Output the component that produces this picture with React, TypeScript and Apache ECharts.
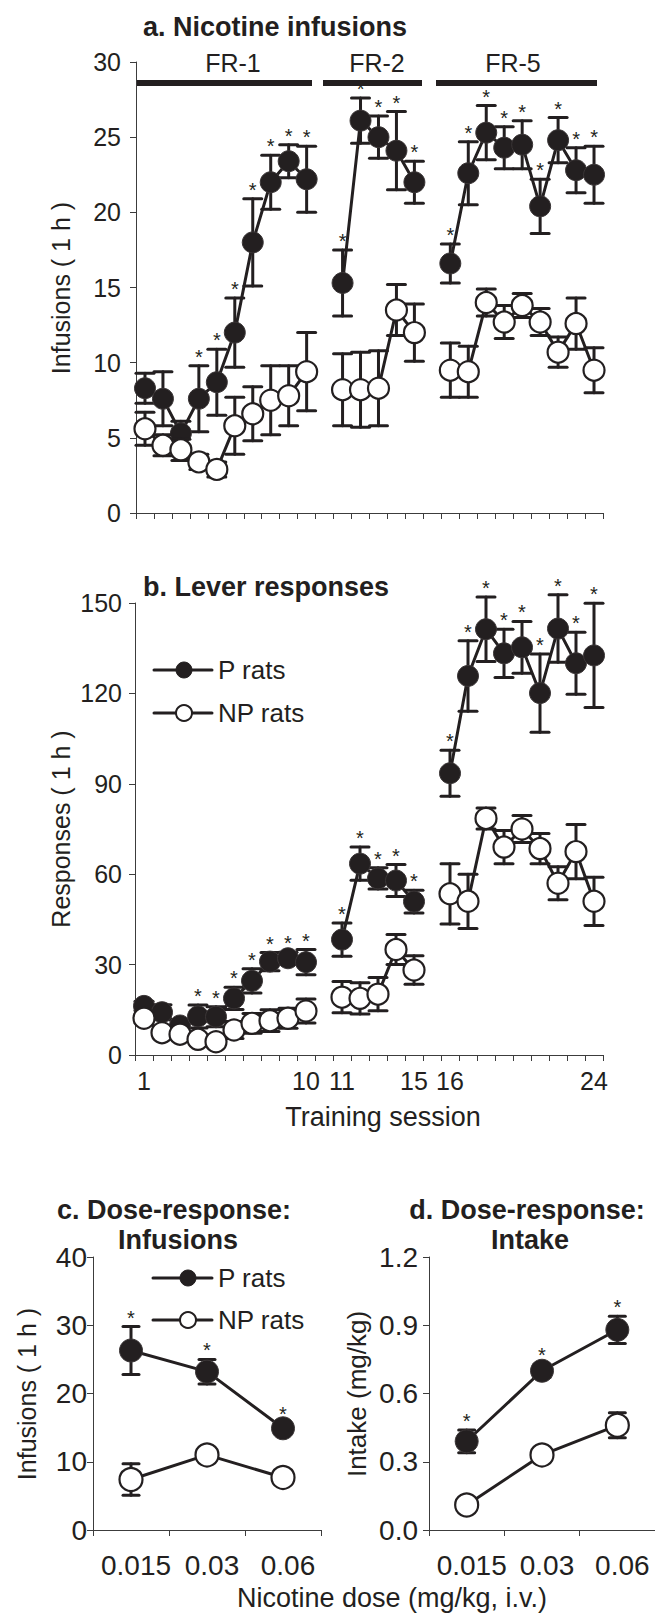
import React, { useEffect, useRef } from "react";
import * as echarts from "echarts";

const FONT = '"Liberation Sans", Arial, Helvetica, sans-serif';
const INK = "#231f20";
const AXIS = "#3c3c3c";

// ---------- Training sessions (panels a, b) ----------
const sessionCats = [
  "1", "2", "3", "4", "5", "6", "7", "8", "9", "10", "gapA",
  "11", "12", "13", "14", "15", "gapB",
  "16", "17", "18", "19", "20", "21", "22", "23", "24",
];
const sessionTickLabels = ["1", "10", "11", "15", "16", "24"];

// a. Nicotine infusions
const infP = [8.3, 7.6, 5.3, 7.6, 8.7, 12.0, 18.0, 22.0, 23.4, 22.2, null, 15.3, 26.1, 25.0, 24.1, 22.0, null, 16.6, 22.6, 25.3, 24.3, 24.5, 20.4, 24.8, 22.8, 22.5];
const infPErr = [1.0, 1.8, 0.8, 2.2, 2.2, 2.3, 2.9, 1.8, 1.1, 2.2, null, 2.2, 1.5, 1.4, 2.6, 1.4, null, 1.3, 2.1, 1.8, 1.4, 1.6, 1.8, 1.5, 1.5, 1.9];
const infNP = [5.6, 4.5, 4.2, 3.4, 2.9, 5.8, 6.6, 7.5, 7.8, 9.4, null, 8.2, 8.2, 8.3, 13.5, 12.0, null, 9.5, 9.4, 14.0, 12.7, 13.8, 12.7, 10.7, 12.6, 9.5];
const infNPErr = [1.1, 0.7, 0.7, 0.5, 0.5, 1.9, 1.8, 2.3, 2.0, 2.6, null, 2.4, 2.5, 2.5, 1.7, 1.9, null, 1.8, 1.7, 0.9, 1.1, 0.8, 0.9, 1.0, 1.7, 1.5];
const infSig = [0, 0, 0, 1, 1, 1, 1, 1, 1, 1, 0, 1, 1, 1, 1, 1, 0, 1, 1, 1, 1, 1, 1, 1, 1, 1];

// b. Lever responses
const resP = [16.3, 14.2, 9.8, 12.8, 12.7, 18.8, 24.6, 31.0, 32.1, 30.8, null, 38.3, 63.5, 58.6, 57.9, 50.9, null, 93.5, 125.8, 141.3, 133.3, 135.3, 120.1, 141.5, 130.0, 132.6];
const resPErr = [1.5, 2.5, 1.5, 3.8, 3.3, 3.7, 4.0, 3.0, 2.0, 4.2, null, 5.5, 5.5, 3.5, 5.3, 3.8, null, 7.6, 11.7, 10.7, 8.0, 8.6, 13.0, 11.2, 10.3, 17.3];
const resNP = [12.2, 7.4, 6.9, 5.2, 4.4, 8.3, 10.5, 11.4, 12.2, 14.6, null, 19.2, 18.8, 20.2, 35.0, 28.2, null, 53.5, 51.0, 78.5, 69.0, 75.0, 68.5, 57.0, 67.5, 51.0];
const resNPErr = [1.5, 1.0, 1.0, 1.0, 1.0, 2.8, 3.3, 3.6, 3.3, 4.0, null, 5.2, 5.2, 5.5, 5.0, 4.7, null, 10.0, 9.0, 3.5, 5.5, 4.5, 5.0, 5.5, 9.0, 8.0];
const resSig = [0, 0, 0, 1, 1, 1, 1, 1, 1, 1, 0, 1, 1, 1, 1, 1, 0, 1, 1, 1, 1, 1, 1, 1, 1, 1];

// ---------- Dose-response (panels c, d) ----------
const doseCats = ["0.015", "0.03", "0.06"];
const doseInfP = [26.3, 23.2, 14.9];
const doseInfPErr = [3.5, 1.8, 0.8];
const doseInfNP = [7.4, 11.0, 7.7];
const doseInfNPErr = [2.3, 0.6, 0.5];
const doseInfSig = [1, 1, 1];

const intakeP = [0.39, 0.70, 0.88];
const intakePErr = [0.05, 0.03, 0.06];
const intakeNP = [0.11, 0.33, 0.46];
const intakeNPErr = [0.02, 0.03, 0.055];
const intakeSig = [1, 1, 1];

function errSeries(ax: number, means: (number | null)[], errs: (number | null)[], z: number, capHalf: number) {
  const data: number[][] = [];
  means.forEach((m, i) => {
    if (m != null && errs[i] != null) data.push([i, m - (errs[i] as number), m + (errs[i] as number)]);
  });
  return {
    type: "custom",
    xAxisIndex: ax,
    yAxisIndex: ax,
    z,
    silent: true,
    data,
    encode: { x: 0, y: [1, 2] },
    renderItem: (params: any, api: any) => {
      const x = api.value(0);
      const top = api.coord([x, api.value(2)]);
      const bot = api.coord([x, api.value(1)]);
      const style = { stroke: INK, lineWidth: 3, lineCap: "round" };
      return {
        type: "group",
        children: [
          { type: "line", shape: { x1: top[0], y1: top[1], x2: bot[0], y2: bot[1] }, style },
          { type: "line", shape: { x1: top[0] - capHalf, y1: top[1], x2: top[0] + capHalf, y2: top[1] }, style },
          { type: "line", shape: { x1: bot[0] - capHalf, y1: bot[1], x2: bot[0] + capHalf, y2: bot[1] }, style },
        ],
      };
    },
  };
}

function starSeries(ax: number, means: (number | null)[], errs: (number | null)[], sig: number[]) {
  const data: number[][] = [];
  means.forEach((m, i) => {
    if (m != null && sig[i]) data.push([i, m + (errs[i] as number)]);
  });
  return {
    type: "custom",
    xAxisIndex: ax,
    yAxisIndex: ax,
    z: 8,
    silent: true,
    data,
    encode: { x: 0, y: 1 },
    renderItem: (params: any, api: any) => {
      const p = api.coord([api.value(0), api.value(1)]);
      return {
        type: "text",
        x: p[0],
        y: p[1] - 9,
        style: { text: "*", font: `20px ${FONT}`, fill: INK, textAlign: "center", textVerticalAlign: "middle" },
      };
    },
  };
}

function lineSeries(name: string, ax: number, data: (number | null)[], filled: boolean, z: number, size: number) {
  return {
    name,
    type: "line",
    xAxisIndex: ax,
    yAxisIndex: ax,
    z,
    data,
    connectNulls: false,
    showSymbol: true,
    showAllSymbol: true,
    symbol: "circle",
    symbolSize: size,
    lineStyle: { color: INK, width: 3 },
    itemStyle: filled
      ? { color: INK, borderColor: "#3a3536", borderWidth: 1 }
      : { color: "#ffffff", borderColor: INK, borderWidth: 2.2 },
    emphasis: { disabled: true },
  };
}

const sessionXAxis = (gridIndex: number, showLabels: boolean) => ({
  type: "category",
  gridIndex,
  data: sessionCats,
  boundaryGap: true,
  axisLine: { show: true, lineStyle: { color: AXIS, width: 1 } },
  axisTick: { show: true, interval: 0, length: 6, lineStyle: { color: AXIS, width: 1 } },
  axisLabel: {
    show: showLabels,
    interval: 0,
    fontSize: 25,
    color: INK,
    margin: 13,
    fontFamily: FONT,
    formatter: (v: string) => (sessionTickLabels.includes(v) ? v : ""),
  },
  splitLine: { show: false },
});

const doseXAxis = (gridIndex: number) => ({
  type: "category",
  gridIndex,
  data: doseCats,
  boundaryGap: true,
  axisLine: { show: true, lineStyle: { color: AXIS, width: 1 } },
  axisTick: { show: true, interval: 0, length: 6, lineStyle: { color: AXIS, width: 1 } },
  axisLabel: { show: true, interval: 0, fontSize: 28, color: INK, margin: 21, fontFamily: FONT, padding: [0, 0, 0, 10] },
  splitLine: { show: false },
});

const valueYAxis = (gridIndex: number, max: number, interval: number, margin: number, fontSize: number, fmt?: (v: number) => string) => ({
  type: "value",
  gridIndex,
  min: 0,
  max,
  interval,
  axisLine: { show: true, lineStyle: { color: AXIS, width: 1 } },
  axisTick: { show: true, length: 6, lineStyle: { color: AXIS, width: 1 } },
  axisLabel: { fontSize, color: INK, margin, fontFamily: FONT, formatter: fmt },
  splitLine: { show: false },
});

function text(x: number, y: number, s: string, font: string, align = "left", rotation = 0) {
  return {
    type: "text",
    x,
    y,
    rotation,
    silent: true,
    style: { text: s, font, fill: INK, textAlign: align, textVerticalAlign: "middle" },
  };
}

function legendItem(x1: number, x2: number, cx: number, y: number, filled: boolean, label: string) {
  return [
    { type: "line", silent: true, shape: { x1, y1: y, x2, y2: y }, style: { stroke: INK, lineWidth: 3, lineCap: "round" } },
    {
      type: "circle",
      silent: true,
      shape: { cx, cy: y, r: 8 },
      style: filled ? { fill: INK, stroke: INK, lineWidth: 1 } : { fill: "#fff", stroke: INK, lineWidth: 2 },
    },
    text(x2 + 6, y, label, `26px ${FONT}`),
  ];
}

export default function App() {
  const ref = useRef<HTMLDivElement>(null);
  useEffect(() => {
    if (!ref.current) return;
    const chart = echarts.init(ref.current, undefined, { renderer: "svg" });
    const bold = `bold 27px ${FONT}`;
    const option: any = {
      animation: false,
      textStyle: { fontFamily: FONT },
      grid: [
        { left: 136, top: 62, width: 467, height: 451 },
        { left: 135, top: 603, width: 468, height: 452 },
        { left: 93, top: 1257, width: 228, height: 273 },
        { left: 429, top: 1257, width: 228, height: 273 },
      ],
      xAxis: [sessionXAxis(0, false), sessionXAxis(1, true), doseXAxis(2), doseXAxis(3)],
      yAxis: [
        valueYAxis(0, 30, 5, 15, 25),
        valueYAxis(1, 150, 30, 13, 25),
        valueYAxis(2, 40, 10, 6, 28),
        valueYAxis(3, 1.2, 0.3, 11, 28, (v: number) => v.toFixed(1)),
      ],
      series: [
        errSeries(0, infP, infPErr, 2, 9),
        lineSeries("P rats", 0, infP, true, 3, 21),
        errSeries(0, infNP, infNPErr, 4, 9),
        lineSeries("NP rats", 0, infNP, false, 5, 21),
        starSeries(0, infP, infPErr, infSig),

        errSeries(1, resP, resPErr, 2, 9),
        lineSeries("P rats", 1, resP, true, 3, 21),
        errSeries(1, resNP, resNPErr, 4, 9),
        lineSeries("NP rats", 1, resNP, false, 5, 21),
        starSeries(1, resP, resPErr, resSig),

        errSeries(2, doseInfP, doseInfPErr, 2, 8),
        lineSeries("P rats", 2, doseInfP, true, 3, 23),
        errSeries(2, doseInfNP, doseInfNPErr, 4, 8),
        lineSeries("NP rats", 2, doseInfNP, false, 5, 23),
        starSeries(2, doseInfP, doseInfPErr, doseInfSig),

        errSeries(3, intakeP, intakePErr, 2, 8),
        lineSeries("P rats", 3, intakeP, true, 3, 23),
        errSeries(3, intakeNP, intakeNPErr, 4, 8),
        lineSeries("NP rats", 3, intakeNP, false, 5, 23),
        starSeries(3, intakeP, intakePErr, intakeSig),
      ],
      graphic: [
        // titles
        text(143, 27, "a. Nicotine infusions", bold),
        text(143, 587, "b. Lever responses", bold),
        text(174, 1210, "c. Dose-response:", bold, "center"),
        text(178, 1240, "Infusions", bold, "center"),
        text(527, 1210, "d. Dose-response:", bold, "center"),
        text(530, 1240, "Intake", bold, "center"),
        // schedule bars
        text(233, 63, "FR-1", `25px ${FONT}`, "center"),
        text(377, 63, "FR-2", `25px ${FONT}`, "center"),
        text(513, 63, "FR-5", `25px ${FONT}`, "center"),
        { type: "rect", silent: true, shape: { x: 137, y: 80, width: 175, height: 6 }, style: { fill: INK } },
        { type: "rect", silent: true, shape: { x: 323, y: 80, width: 99, height: 6 }, style: { fill: INK } },
        { type: "rect", silent: true, shape: { x: 436, y: 80, width: 161, height: 6 }, style: { fill: INK } },
        // axis names
        text(61, 288, "Infusions ( 1 h )", `25px ${FONT}`, "center", Math.PI / 2),
        text(61, 829, "Responses ( 1 h )", `25px ${FONT}`, "center", Math.PI / 2),
        text(27, 1394, "Infusions ( 1 h )", `25px ${FONT}`, "center", Math.PI / 2),
        text(357, 1394, "Intake (mg/kg)", `26px ${FONT}`, "center", Math.PI / 2),
        text(383, 1117, "Training session", `27px ${FONT}`, "center"),
        text(392, 1598, "Nicotine dose (mg/kg, i.v.)", `27px ${FONT}`, "center"),
        // legends
        ...legendItem(154, 212, 184, 670, true, "P rats"),
        ...legendItem(154, 212, 184, 713, false, "NP rats"),
        ...legendItem(153, 212, 188, 1278, true, "P rats"),
        ...legendItem(153, 212, 188, 1320, false, "NP rats"),
      ],
    };
    chart.setOption(option);
    return () => chart.dispose();
  }, []);
  return (
    <div
      ref={ref}
      style={{ position: "absolute", left: 0, top: 0, width: 655, height: 1614, background: "#fff" }}
    />
  );
}
